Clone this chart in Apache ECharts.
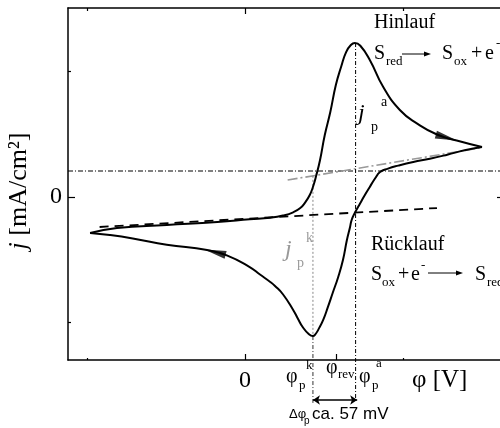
<!DOCTYPE html>
<html>
<head>
<meta charset="utf-8">
<script src="https://cdn.jsdelivr.net/npm/echarts@6/dist/echarts.min.js"></script>
<style>html,body{margin:0;padding:0;background:#fff}#cv{width:500px;height:428px}</style>
</head>
<body>
<div id="cv"></div>
<script>
// potential axis (V) and current axis (mA/cm²)
var xRange = [-0.224, 0.3253];
var yRange = [-1.299, 1.506];
var xTicksMajor = [0];
var xTicksMinor = [-0.2, 0.2];
var yTicksMinor = [-1, 1];

// Hinlauf (anodic sweep), left vertex -> right vertex
var forwardScan = [
  [-0.196,-0.287],[-0.162,-0.247],[-0.099,-0.223],[-0.035,-0.199],[0.006,-0.178],
  [0.032,-0.165],[0.048,-0.148],[0.061,-0.122],[0.070,-0.088],[0.076,-0.045],
  [0.082,0.016],[0.086,0.080],[0.090,0.167],[0.095,0.295],[0.101,0.494],
  [0.108,0.677],[0.115,0.892],[0.122,1.044],[0.128,1.155],[0.134,1.211],
  [0.139,1.227],[0.146,1.205],[0.158,1.092],[0.175,0.876],[0.196,0.693],
  [0.218,0.585],[0.243,0.498],[0.268,0.450],[0.300,0.398]
];
// Rücklauf (cathodic sweep), right vertex -> left vertex
var reverseScan = [
  [0.300,0.398],[0.278,0.372],[0.256,0.337],[0.234,0.305],[0.213,0.279],
  [0.194,0.250],[0.181,0.226],[0.171,0.199],[0.165,0.151],[0.158,0.080],
  [0.151,0.008],[0.146,-0.048],[0.139,-0.127],[0.135,-0.183],[0.133,-0.239],
  [0.129,-0.343],[0.124,-0.502],[0.118,-0.637],[0.111,-0.765],[0.105,-0.876],
  [0.099,-0.980],[0.093,-1.055],[0.089,-1.095],[0.086,-1.108],[0.081,-1.094],
  [0.073,-1.036],[0.067,-0.970],[0.061,-0.900],[0.048,-0.775],[0.038,-0.709],
  [0.032,-0.677],[0.019,-0.618],[0.006,-0.558],[-0.023,-0.465],[-0.048,-0.422],
  [-0.099,-0.380],[-0.142,-0.330],[-0.171,-0.303],[-0.196,-0.287]
];

var phiPk = 0.086, phiPa = 0.140, phiRev = 0.115;
var jPa = 1.227, jPk = -1.108;
var jLevel = 0.207;          // horizontal reference line
var belowAxis = -1.641;      // drop lines end below the axis
var deltaRow = -1.618;       // y of the Δφp arrow
var cathodicBase = [[-0.184,-0.239],[0.243,-0.088]];
var anodicBase = [[0.054,0.135],[0.297,0.390]];
var arrowFwd = [0.255, 0.474];
var arrowRev = [-0.038, -0.440];

var serif = 'Liberation Serif', sans = 'Liberation Sans';

function T(x, y, s, size, o) {
  o = o || {};
  return {
    type: 'text', x: x, y: y, silent: true,
    style: {
      text: s, fontSize: size, fontFamily: o.sans ? sans : serif,
      fontStyle: o.italic ? 'italic' : 'normal', fill: o.color || '#000',
      textAlign: 'left', textVerticalAlign: 'middle', align: 'left', verticalAlign: 'middle'
    }
  };
}
function rArrow(x1, x2, y) {
  return [
    {type: 'line', silent: true, shape: {x1: x1, y1: y, x2: x2 - 6, y2: y}, style: {stroke: '#000', lineWidth: 1}},
    {type: 'polygon', silent: true, shape: {points: [[x2 - 7, y - 2.5], [x2, y], [x2 - 7, y + 2.5]]}, style: {fill: '#000'}}
  ];
}

function xAx(pos, line, ticks, len, labels) {
  return {
    type: 'value', position: pos, min: xRange[0], max: xRange[1],
    axisLine: {show: line, onZero: false, lineStyle: {color: '#000', width: 1.5}},
    splitLine: {show: false},
    axisTick: {show: true, inside: true, length: len, customValues: ticks, lineStyle: {color: '#000', width: 1.2}},
    axisLabel: labels ? {customValues: labels, fontFamily: serif, fontSize: 24, color: '#000', margin: 9} : {show: false}
  };
}
function yAx(pos, line, ticks, len, labels, name) {
  var a = {
    type: 'value', position: pos, min: yRange[0], max: yRange[1],
    axisLine: {show: line, onZero: false, lineStyle: {color: '#000', width: 1.5}},
    splitLine: {show: false},
    axisTick: {show: true, inside: true, length: len, customValues: ticks, lineStyle: {color: '#000', width: 1.2}},
    axisLabel: labels ? {customValues: labels, fontFamily: serif, fontSize: 24, color: '#000', margin: 6} : {show: false}
  };
  if (name) {
    a.name = name;
    a.nameLocation = 'middle';
    a.nameGap = 36;
    a.nameTextStyle = {fontFamily: serif, fontSize: 26, color: '#000', padding: [0, 14, 0, 0],
      rich: {i: {fontFamily: serif, fontSize: 26, fontStyle: 'italic', color: '#000'}}};
  }
  return a;
}

function seg(data, color, width, type, clip) {
  return {type: 'line', data: data, showSymbol: false, symbol: 'none', clip: clip !== false ? true : false,
    silent: true, animation: false, lineStyle: {color: color, width: width, type: type}, z: 1};
}

var chart = echarts.init(document.getElementById('cv'), null, {renderer: 'canvas'});
var graphics = [].concat(
  [T(374, 23, 'Hinlauf', 20),
   T(374, 54, 'S', 20), T(386, 62, 'red', 13)],
  rArrow(402, 431, 54),
  [T(442, 54, 'S', 20), T(454, 62, 'ox', 13), T(471, 54, '+', 20), T(485, 54, 'e', 20), T(496, 44, '-', 13),
   T(371, 245, 'Rücklauf', 20),
   T(371, 275, 'S', 20), T(382, 283, 'ox', 13), T(398, 275, '+', 20), T(411, 275, 'e', 20), T(421, 266, '-', 13)],
  rArrow(428, 463, 273),
  [T(475, 275, 'S', 20), T(487, 283, 'red', 13),
   T(358, 114, 'j', 24, {italic: true}), T(371, 127, 'p', 14), T(381, 102, 'a', 14),
   T(285, 250, 'j', 24, {italic: true, color: '#999'}), T(297, 263, 'p', 14, {color: '#999'}), T(306, 238, 'k', 14, {color: '#999'}),
   T(286, 377, 'φ', 20), T(299, 386, 'p', 13), T(306, 366, 'k', 13),
   T(326, 368, 'φ', 20), T(338, 375, 'rev', 13),
   T(359, 377, 'φ', 20), T(372, 386, 'p', 13), T(376, 364, 'a', 13),
   T(412, 380, 'φ [V]', 25),
   T(289, 414, 'Δφ', 13, {sans: true}), T(304, 421, 'p', 10, {sans: true}), T(312, 414, 'ca. 57 mV', 17, {sans: true})]
);

var option = {
  animation: false,
  backgroundColor: '#fff',
  grid: {left: 68, right: -2, top: 8, bottom: 68, containLabel: false, outerBoundsMode: 'none'},
  xAxis: [
    xAx('bottom', true, [0, phiRev], 6, [0]),
    xAx('top', true, xTicksMajor, 6, null),
    xAx('bottom', false, xTicksMinor, 2, null),
    xAx('top', false, xTicksMinor, 3, null)
  ],
  yAxis: [
    yAx('left', true, [0], 7, [0], '{i|j} [mA/cm²]'),
    yAx('right', true, [0], 5, null),
    yAx('left', false, yTicksMinor, 3, null)
  ],
  series: [
    seg([[xRange[0], jLevel], [xRange[1], jLevel]], '#000', 1, [5, 2, 1, 2]),
    seg(cathodicBase, '#000', 1.8, [9, 6]),
    seg(anodicBase, '#999', 1.6, [10, 3, 2, 3]),
    seg([[phiPk, anodicBase[0][1] + (anodicBase[1][1] - anodicBase[0][1]) * (phiPk - anodicBase[0][0]) / (anodicBase[1][0] - anodicBase[0][0])], [phiPk, jPk]], '#888', 1, [2, 2]),
    seg([[phiPk, jPk], [phiPk, belowAxis]], '#333', 1, [4, 2, 1, 2], false),
    seg([[phiPa, jPa], [phiPa, belowAxis]], '#000', 1, [4, 2, 1, 2], false),
    {type: 'line', data: forwardScan, smooth: 0.5, showSymbol: false, symbol: 'none', silent: true,
      lineStyle: {color: '#000', width: 2}, z: 3},
    {type: 'line', data: reverseScan, smooth: 0.5, showSymbol: false, symbol: 'none', silent: true,
      lineStyle: {color: '#000', width: 2}, z: 3},
    {type: 'scatter', data: [arrowFwd], symbol: 'triangle', symbolSize: [8, 22], symbolRotate: -105.6,
      itemStyle: {color: '#000'}, silent: true, z: 4},
    {type: 'scatter', data: [arrowRev], symbol: 'triangle', symbolSize: [8, 22], symbolRotate: 75.4,
      itemStyle: {color: '#000'}, silent: true, z: 4},
    {type: 'lines', coordinateSystem: 'cartesian2d', clip: false, silent: true,
      symbol: ['arrow', 'arrow'], symbolSize: 7,
      lineStyle: {color: '#000', width: 1.5, opacity: 1, curveness: 0},
      data: [{coords: [[phiPk, deltaRow], [phiPa + 0.002, deltaRow]]}]}
  ],
  graphic: graphics
};
chart.setOption(option);
</script>
</body>
</html>
